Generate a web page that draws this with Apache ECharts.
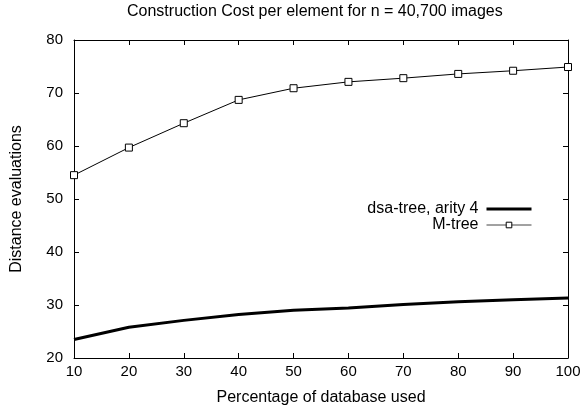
<!DOCTYPE html>
<html><head><meta charset="utf-8">
<script src="https://cdn.jsdelivr.net/npm/echarts@6/dist/echarts.min.js"></script>
<style>html,body{margin:0;padding:0;background:#fff}#c{width:585px;height:413px}</style>
</head><body><div id="c"></div>
<script>
const percentages = [10, 20, 30, 40, 50, 60, 70, 80, 90, 100];
const dsaTree = [23.5, 25.8, 27.1, 28.2, 29.0, 29.45, 30.1, 30.6, 31.0, 31.3];
const mTree = [54.5, 59.7, 64.3, 68.7, 70.9, 72.1, 72.8, 73.6, 74.2, 74.9];
const seriesNames = ['dsa-tree, arity 4', 'M-tree'];
const titleText = 'Construction Cost per element for n = 40,700 images';
const xName = 'Percentage of database used';
const yName = 'Distance evaluations';

const font = 'Liberation Sans, Arial, Helvetica, sans-serif';
const chart = echarts.init(document.getElementById('c'), null, {renderer: 'canvas'});
const pair = arr => percentages.map((p, i) => [p, arr[i]]);
const axisCommon = {
  axisLine: {show: true, onZero: false, lineStyle: {color: '#000', width: 1}},
  axisTick: {show: true, inside: true, length: 5, lineStyle: {color: '#000'}},
  splitLine: {show: false}
};
chart.setOption({
  animation: false,
  backgroundColor: '#fff',
  title: {text: titleText, left: 127, top: 4, padding: 0,
    textStyle: {fontFamily: font, fontSize: 16, fontWeight: 'normal', color: '#000'}},
  grid: {left: 74, right: 17, top: 40, bottom: 55},
  legend: {
    right: 52, top: 201, orient: 'vertical', align: 'right', itemGap: 0, padding: 0,
    itemWidth: 45, itemHeight: 7,
    textStyle: {fontFamily: font, fontSize: 16, color: '#000', padding: [0, 3, 0, 0]},
    data: [
      {name: seriesNames[0], itemStyle: {opacity: 0}, lineStyle: {width: 3, color: '#000'}},
      {name: seriesNames[1], itemStyle: {color: '#fff', borderColor: '#000', borderWidth: 1},
        lineStyle: {width: 1, color: '#444'}}
    ]
  },
  xAxis: [
    Object.assign({type: 'value', min: 10, max: 100, interval: 10, position: 'bottom',
      name: xName, nameLocation: 'middle', nameGap: 32,
      nameTextStyle: {fontFamily: font, fontSize: 16, color: '#000'},
      axisLabel: {fontFamily: font, fontSize: 15, color: '#000', margin: 6}}, axisCommon),
    Object.assign({type: 'value', min: 10, max: 100, interval: 10, position: 'top',
      axisLabel: {show: false}}, axisCommon)
  ],
  yAxis: [
    Object.assign({type: 'value', min: 20, max: 80, interval: 10, position: 'left',
      name: yName, nameLocation: 'middle', nameGap: 49,
      nameTextStyle: {fontFamily: font, fontSize: 16, color: '#000'},
      axisLabel: {fontFamily: font, fontSize: 15, color: '#000', margin: 11}}, axisCommon),
    Object.assign({type: 'value', min: 20, max: 80, interval: 10, position: 'right',
      axisLabel: {show: false}}, axisCommon)
  ],
  series: [
    {name: seriesNames[0], type: 'line', data: pair(dsaTree), showSymbol: false, symbol: 'none',
      lineStyle: {color: '#000', width: 3}, itemStyle: {color: '#000'}},
    {name: seriesNames[1], type: 'line', data: pair(mTree), symbol: 'rect', symbolSize: 7,
      lineStyle: {color: '#000', width: 1},
      itemStyle: {color: '#fff', borderColor: '#000', borderWidth: 1}}
  ]
});
</script></body></html>
